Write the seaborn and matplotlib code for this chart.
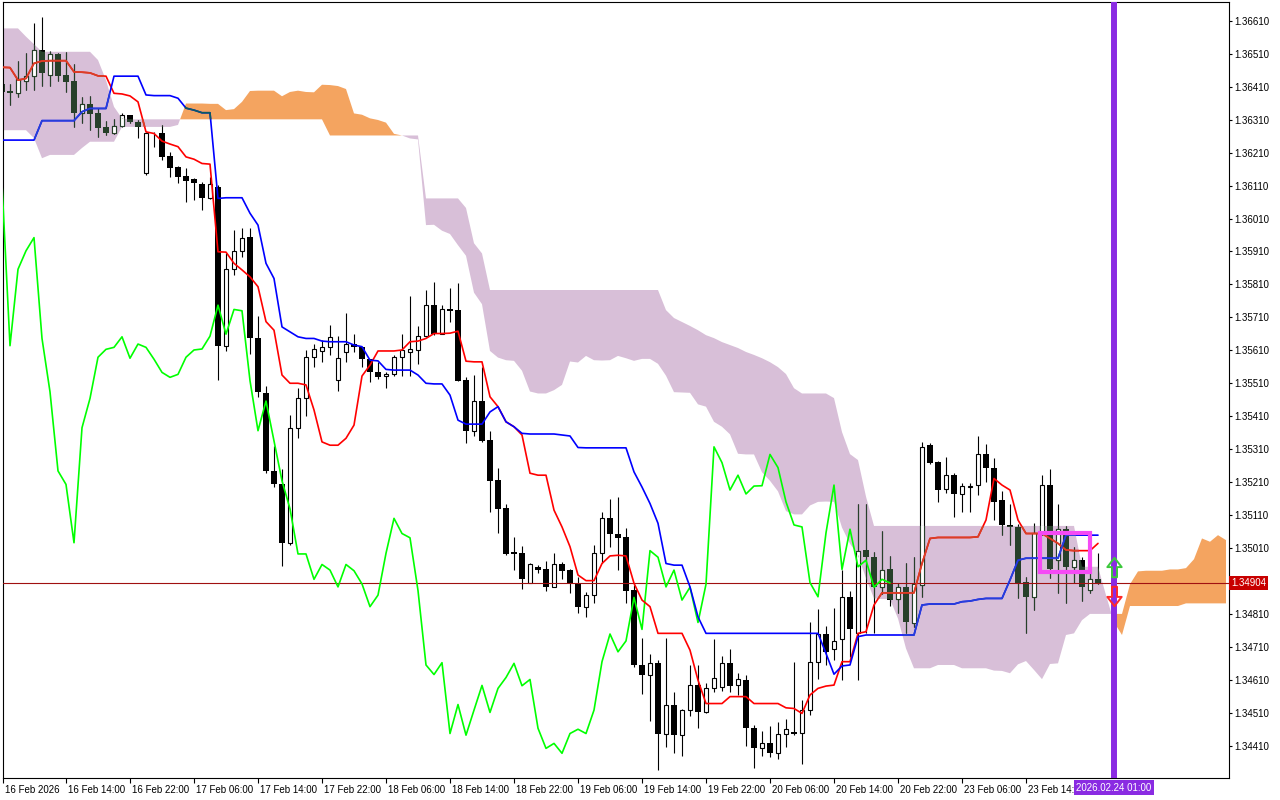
import numpy as np
import pandas as pd
import matplotlib
matplotlib.use("Agg")
import matplotlib.pyplot as plt
import matplotlib.transforms as mtrans
from matplotlib.patches import Rectangle, PathPatch
from matplotlib.path import Path
import seaborn as sns

# -------------------------------------------------------------
# H1 candles, 16 Feb 06:00 -> 23 Feb 23:00 (weekend skipped)
# -------------------------------------------------------------
opens = [1.36418, 1.36397, 1.36390, 1.36428, 1.36442, 1.36521, 1.36447, 1.36509, 1.36445, 1.36427,
         1.36331, 1.36359, 1.36329, 1.36288, 1.36271, 1.36290, 1.36323, 1.36304, 1.36147, 1.36268,
         1.36271, 1.36200, 1.36167, 1.36139, 1.36130, 1.36115, 1.36071, 1.36105, 1.35624, 1.35856,
         1.35911, 1.35955, 1.35647, 1.35481, 1.35244, 1.35204, 1.35024, 1.35375, 1.35464, 1.35589,
         1.35609, 1.35619, 1.35520, 1.35604, 1.35629, 1.35619, 1.35583, 1.35543, 1.35532, 1.35537,
         1.35589, 1.35604, 1.35611, 1.35653, 1.35747, 1.35661, 1.35734, 1.35732, 1.35520, 1.35366,
         1.35456, 1.35338, 1.35216, 1.35130, 1.34997, 1.34994, 1.34905, 1.34953, 1.34945, 1.34892,
         1.34961, 1.34943, 1.34903, 1.34832, 1.34867, 1.34994, 1.35100, 1.35054, 1.35042, 1.34882,
         1.34655, 1.34626, 1.34662, 1.34445, 1.34535, 1.34442, 1.34518, 1.34593, 1.34511, 1.34584,
         1.34589, 1.34660, 1.34593, 1.34609, 1.34463, 1.34402, 1.34417, 1.34387, 1.34447, 1.34452,
         1.34450, 1.34518, 1.34665, 1.34749, 1.34702, 1.34733, 1.34860, 1.34751, 1.35004, 1.34983,
         1.34892, 1.34945, 1.34854, 1.34891, 1.34783, 1.34898, 1.35322, 1.35272, 1.35188, 1.35231,
         1.35174, 1.35194, 1.35201, 1.35294, 1.35254, 1.35155, 1.35080, 1.35074, 1.34906, 1.34862,
         1.35056, 1.35201, 1.34973, 1.35067, 1.34953, 1.34973, 1.34884, 1.34915]

highs = [1.36424, 1.36418, 1.36488, 1.36511, 1.36602, 1.36622, 1.36519, 1.36512, 1.36514, 1.36479,
         1.36378, 1.36382, 1.36346, 1.36307, 1.36312, 1.36331, 1.36324, 1.36309, 1.36273, 1.36273,
         1.36294, 1.36213, 1.36169, 1.36162, 1.36132, 1.36122, 1.36136, 1.36112, 1.35906, 1.35975,
         1.35980, 1.35982, 1.35714, 1.35502, 1.35319, 1.35249, 1.35413, 1.35496, 1.35611, 1.35629,
         1.35641, 1.35687, 1.35653, 1.35722, 1.35661, 1.35620, 1.35583, 1.35575, 1.35545, 1.35596,
         1.35661, 1.35775, 1.35684, 1.35793, 1.35818, 1.35747, 1.35798, 1.35813, 1.35530, 1.35535,
         1.35559, 1.35365, 1.35254, 1.35145, 1.35044, 1.35016, 1.34965, 1.34958, 1.34970, 1.34996,
         1.34968, 1.34946, 1.34923, 1.34877, 1.35019, 1.35120, 1.35158, 1.35166, 1.35070, 1.34898,
         1.34736, 1.34688, 1.34670, 1.34736, 1.34573, 1.34521, 1.34655, 1.34655, 1.34599, 1.34733,
         1.34682, 1.34702, 1.34631, 1.34624, 1.34473, 1.34455, 1.34470, 1.34481, 1.34490, 1.34665,
         1.34548, 1.34786, 1.34824, 1.34773, 1.34827, 1.34943, 1.34880, 1.35145, 1.35143, 1.34999,
         1.35062, 1.34986, 1.34905, 1.34965, 1.34983, 1.35332, 1.35328, 1.35275, 1.35287, 1.35237,
         1.35206, 1.35206, 1.35350, 1.35325, 1.35282, 1.35183, 1.35145, 1.35083, 1.34923, 1.35085,
         1.35231, 1.35249, 1.35145, 1.35077, 1.35012, 1.34983, 1.34979, 1.34996]

lows = [1.36385, 1.36354, 1.36380, 1.36400, 1.36400, 1.36412, 1.36412, 1.36427, 1.36395, 1.36287,
        1.36299, 1.36278, 1.36258, 1.36262, 1.36266, 1.36288, 1.36300, 1.36253, 1.36141, 1.36228,
        1.36187, 1.36137, 1.36117, 1.36059, 1.36066, 1.36036, 1.36069, 1.35520, 1.35609, 1.35838,
        1.35894, 1.35599, 1.35469, 1.35238, 1.35196, 1.34955, 1.35019, 1.35343, 1.35410, 1.35558,
        1.35575, 1.35596, 1.35487, 1.35575, 1.35606, 1.35560, 1.35515, 1.35523, 1.35495, 1.35532,
        1.35532, 1.35532, 1.35568, 1.35651, 1.35656, 1.35661, 1.35697, 1.35517, 1.35328, 1.35351,
        1.35332, 1.35120, 1.35056, 1.34989, 1.34943, 1.34886, 1.34903, 1.34933, 1.34880, 1.34891,
        1.34915, 1.34872, 1.34813, 1.34801, 1.34844, 1.34963, 1.35014, 1.34943, 1.34844, 1.34650,
        1.34566, 1.34486, 1.34336, 1.34407, 1.34387, 1.34379, 1.34501, 1.34464, 1.34509, 1.34574,
        1.34577, 1.34574, 1.34564, 1.34410, 1.34341, 1.34379, 1.34376, 1.34369, 1.34407, 1.34442,
        1.34356, 1.34503, 1.34611, 1.34655, 1.34670, 1.34609, 1.34678, 1.34609, 1.34751, 1.34751,
        1.34870, 1.34834, 1.34812, 1.34751, 1.34769, 1.34862, 1.35266, 1.35150, 1.35176, 1.35103,
        1.35120, 1.35120, 1.35171, 1.35211, 1.35095, 1.35049, 1.35019, 1.34859, 1.34751, 1.34822,
        1.35049, 1.34918, 1.34872, 1.34842, 1.34903, 1.34850, 1.34872, 1.34901]

closes = [1.36395, 1.36390, 1.36432, 1.36442, 1.36521, 1.36451, 1.36509, 1.36443, 1.36425, 1.36331,
          1.36359, 1.36327, 1.36285, 1.36270, 1.36291, 1.36323, 1.36302, 1.36288, 1.36271, 1.36266,
          1.36197, 1.36164, 1.36137, 1.36125, 1.36117, 1.36071, 1.36115, 1.35624, 1.35856, 1.35912,
          1.35952, 1.35646, 1.35484, 1.35244, 1.35203, 1.35026, 1.35375, 1.35464, 1.35589, 1.35613,
          1.35619, 1.35651, 1.35586, 1.35629, 1.35619, 1.35583, 1.35543, 1.35528, 1.35537, 1.35589,
          1.35611, 1.35614, 1.35653, 1.35747, 1.35659, 1.35734, 1.35730, 1.35518, 1.35366, 1.35456,
          1.35335, 1.35214, 1.35129, 1.34992, 1.34992, 1.34915, 1.34960, 1.34943, 1.34892, 1.34960,
          1.34941, 1.34901, 1.34832, 1.34867, 1.34994, 1.35100, 1.35054, 1.35041, 1.34881, 1.34655,
          1.34626, 1.34662, 1.34447, 1.34535, 1.34442, 1.34518, 1.34593, 1.34511, 1.34584, 1.34617,
          1.34660, 1.34592, 1.34611, 1.34463, 1.34402, 1.34417, 1.34387, 1.34447, 1.34460, 1.34447,
          1.34518, 1.34665, 1.34749, 1.34695, 1.34728, 1.34860, 1.34763, 1.35002, 1.34982, 1.34892,
          1.34943, 1.34852, 1.34891, 1.34784, 1.34900, 1.35317, 1.35269, 1.35186, 1.35231, 1.35174,
          1.35198, 1.35199, 1.35294, 1.35254, 1.35150, 1.35080, 1.35074, 1.34905, 1.34862, 1.35056,
          1.35201, 1.34945, 1.35067, 1.34953, 1.34973, 1.34891, 1.34915, 1.34904]

# Ichimoku lines
tenkan = [1.36469, 1.36468, 1.36430, 1.36435, 1.36481, 1.36488, 1.36489, 1.36489, 1.36489, 1.36455,
          1.36454, 1.36452, 1.36443, 1.36442, 1.36390, 1.36388, 1.36382, 1.36364, 1.36273, 1.36268,
          1.36245, 1.36236, 1.36228, 1.36197, 1.36190, 1.36177, 1.36175, 1.35909, 1.35908, 1.35874,
          1.35854, 1.35833, 1.35803, 1.35697, 1.35671, 1.35535, 1.35510, 1.35510, 1.35505, 1.35429,
          1.35332, 1.35322, 1.35322, 1.35343, 1.35383, 1.35532, 1.35565, 1.35608, 1.35608, 1.35608,
          1.35611, 1.35636, 1.35638, 1.35646, 1.35661, 1.35661, 1.35662, 1.35668, 1.35577, 1.35575,
          1.35575, 1.35469, 1.35439, 1.35393, 1.35378, 1.35353, 1.35237, 1.35231, 1.35231, 1.35125,
          1.35074, 1.35014, 1.34928, 1.34911, 1.34911, 1.34963, 1.34986, 1.34988, 1.34986, 1.34903,
          1.34852, 1.34832, 1.34751, 1.34751, 1.34751, 1.34751, 1.34700, 1.34609, 1.34538, 1.34538,
          1.34538, 1.34559, 1.34559, 1.34559, 1.34538, 1.34538, 1.34538, 1.34538, 1.34525, 1.34523,
          1.34508, 1.34564, 1.34584, 1.34591, 1.34594, 1.34665, 1.34665, 1.34751, 1.34756, 1.34837,
          1.34874, 1.34874, 1.34874, 1.34874, 1.34874, 1.34963, 1.35039, 1.35042, 1.35042, 1.35042,
          1.35042, 1.35042, 1.35044, 1.35095, 1.35221, 1.35201, 1.35186, 1.35095, 1.35054, 1.35054,
          1.35054, 1.35039, 1.35024, 1.35004, 1.35002, 1.35002, 1.35002, 1.35024]

kijun = [1.36248, 1.36248, 1.36248, 1.36248, 1.36248, 1.36307, 1.36307, 1.36307, 1.36307, 1.36307,
         1.36334, 1.36344, 1.36344, 1.36344, 1.36442, 1.36442, 1.36442, 1.36442, 1.36385, 1.36383,
         1.36383, 1.36383, 1.36375, 1.36345, 1.36339, 1.36331, 1.36331, 1.36071, 1.36073, 1.36073,
         1.36073, 1.36026, 1.35990, 1.35874, 1.35828, 1.35681, 1.35666, 1.35651, 1.35646, 1.35646,
         1.35638, 1.35636, 1.35636, 1.35636, 1.35626, 1.35621, 1.35580, 1.35578, 1.35552, 1.35550,
         1.35550, 1.35550, 1.35535, 1.35510, 1.35508, 1.35508, 1.35474, 1.35398, 1.35386, 1.35386,
         1.35386, 1.35423, 1.35439, 1.35393, 1.35378, 1.35358, 1.35356, 1.35356, 1.35356, 1.35356,
         1.35353, 1.35350, 1.35315, 1.35314, 1.35314, 1.35314, 1.35314, 1.35314, 1.35314, 1.35241,
         1.35195, 1.35145, 1.35085, 1.34963, 1.34958, 1.34958, 1.34892, 1.34801, 1.34751, 1.34751,
         1.34751, 1.34751, 1.34751, 1.34751, 1.34751, 1.34751, 1.34751, 1.34751, 1.34751, 1.34751,
         1.34751, 1.34751, 1.34751, 1.34690, 1.34627, 1.34652, 1.34655, 1.34741, 1.34746, 1.34746,
         1.34746, 1.34746, 1.34746, 1.34746, 1.34746, 1.34837, 1.34840, 1.34840, 1.34840, 1.34840,
         1.34847, 1.34849, 1.34854, 1.34857, 1.34857, 1.34857, 1.34913, 1.34973, 1.34979, 1.34979,
         1.34979, 1.34979, 1.34979, 1.35049, 1.35049, 1.35049, 1.35049, 1.35049]

# cloud spans (already shifted 26 bars forward), bars 0..153
span_a = [1.36278, 1.36278, 1.36278, 1.36278, 1.36254, 1.36193, 1.36203, 1.36203, 1.36203, 1.36203,
          1.36224, 1.36243, 1.36243, 1.36243, 1.36243, 1.36288, 1.36288, 1.36288, 1.36288, 1.36288,
          1.36288, 1.36288, 1.36294, 1.36359, 1.36359, 1.36359, 1.36358, 1.36358, 1.36339, 1.36342,
          1.36364, 1.36397, 1.36398, 1.36398, 1.36398, 1.36381, 1.36394, 1.36398, 1.36394, 1.36393,
          1.36416, 1.36415, 1.36412, 1.36403, 1.36329, 1.36325, 1.36314, 1.36309, 1.36301, 1.36267,
          1.36262, 1.36253, 1.36250, 1.35990, 1.35991, 1.35973, 1.35963, 1.35929, 1.35897, 1.35785,
          1.35750, 1.35608, 1.35588, 1.35580, 1.35578, 1.35548, 1.35485, 1.35479, 1.35479, 1.35489,
          1.35505, 1.35576, 1.35573, 1.35593, 1.35580, 1.35579, 1.35580, 1.35593, 1.35586, 1.35578,
          1.35584, 1.35584, 1.35569, 1.35533, 1.35483, 1.35482, 1.35481, 1.35446, 1.35439, 1.35393,
          1.35378, 1.35355, 1.35296, 1.35294, 1.35294, 1.35240, 1.35214, 1.35182, 1.35122, 1.35112,
          1.35112, 1.35139, 1.35150, 1.35151, 1.35150, 1.35072, 1.35023, 1.34989, 1.34918, 1.34857,
          1.34855, 1.34855, 1.34796, 1.34705, 1.34645, 1.34645, 1.34645, 1.34655, 1.34655, 1.34655,
          1.34645, 1.34645, 1.34645, 1.34645, 1.34638, 1.34637, 1.34630, 1.34657, 1.34667, 1.34640,
          1.34612, 1.34658, 1.34660, 1.34746, 1.34751, 1.34791, 1.34810, 1.34810, 1.34810, 1.34810,
          1.34810, 1.34900, 1.34939, 1.34941, 1.34941, 1.34941, 1.34945, 1.34945, 1.34949, 1.34976,
          1.35039, 1.35029, 1.35049, 1.35034]

span_b = [1.36587, 1.36587, 1.36587, 1.36562, 1.36539, 1.36516, 1.36516, 1.36516, 1.36516, 1.36516,
          1.36516, 1.36516, 1.36491, 1.36430, 1.36349, 1.36314, 1.36311, 1.36311, 1.36311, 1.36311,
          1.36311, 1.36311, 1.36311, 1.36311, 1.36311, 1.36311, 1.36311, 1.36311, 1.36311, 1.36311,
          1.36311, 1.36311, 1.36311, 1.36311, 1.36311, 1.36311, 1.36311, 1.36311, 1.36311, 1.36311,
          1.36311, 1.36262, 1.36262, 1.36262, 1.36262, 1.36262, 1.36262, 1.36262, 1.36262, 1.36262,
          1.36262, 1.36262, 1.36262, 1.36071, 1.36071, 1.36071, 1.36071, 1.36071, 1.36042, 1.35935,
          1.35904, 1.35793, 1.35793, 1.35793, 1.35793, 1.35793, 1.35793, 1.35793, 1.35793, 1.35793,
          1.35793, 1.35793, 1.35793, 1.35793, 1.35793, 1.35793, 1.35793, 1.35793, 1.35793, 1.35793,
          1.35793, 1.35793, 1.35793, 1.35732, 1.35708, 1.35696, 1.35684, 1.35671, 1.35656, 1.35647,
          1.35635, 1.35626, 1.35617, 1.35605, 1.35596, 1.35586, 1.35574, 1.35559, 1.35538, 1.35495,
          1.35479, 1.35479, 1.35479, 1.35479, 1.35465, 1.35362, 1.35295, 1.35277, 1.35166, 1.35077,
          1.35077, 1.35077, 1.35077, 1.35077, 1.35077, 1.35077, 1.35077, 1.35077, 1.35077, 1.35077,
          1.35077, 1.35077, 1.35077, 1.35077, 1.35077, 1.35077, 1.35077, 1.35077, 1.35077, 1.35077,
          1.35077, 1.35077, 1.35077, 1.35077, 1.35077, 1.34953, 1.34953, 1.34953, 1.34867, 1.34785,
          1.34746, 1.34834, 1.34834, 1.34834, 1.34834, 1.34834, 1.34834, 1.34834, 1.34842, 1.34842,
          1.34842, 1.34842, 1.34842, 1.34842]

chikou_shift = 26

# axis labels
time_label_bars = [0.07, 8, 16, 24, 32, 40, 48, 56, 64, 72, 80, 88, 96, 104, 112, 120, 128]
time_labels = ["16 Feb 2026", "16 Feb 14:00", "16 Feb 22:00", "17 Feb 06:00", "17 Feb 14:00",
               "17 Feb 22:00", "18 Feb 06:00", "18 Feb 14:00", "18 Feb 22:00", "19 Feb 06:00",
               "19 Feb 14:00", "19 Feb 22:00", "20 Feb 06:00", "20 Feb 14:00", "20 Feb 22:00",
               "23 Feb 06:00", "23 Feb 14:00"]
price_ticks = [1.36610, 1.36510, 1.36410, 1.36310, 1.36210, 1.36110, 1.36010, 1.35910, 1.35810,
               1.35710, 1.35610, 1.35510, 1.35410, 1.35310, 1.35210, 1.35110, 1.35010,
               1.34810, 1.34710, 1.34610, 1.34510, 1.34410]

last_price = 1.34904
marker_bar = 139
marker_text = "2026.02.24 01:00"
box_bars = (129.75, 136.0)
box_prices = (1.34937, 1.35055)
buy_arrow_price = 1.34952
sell_arrow_price = 1.34864

# -------------------------------------------------------------
# figure
# -------------------------------------------------------------
sns.set_theme(style="white")
plt.rcParams["font.family"] = ["Liberation Sans", "DejaVu Sans"]

fig = plt.figure(figsize=(12.8, 8), dpi=100, facecolor="white")
ax = fig.add_axes([2.5 / 1280, 22 / 800, 1226.5 / 1280, 776 / 800])
ax.set_facecolor("white")

bars = np.arange(len(closes))
cloud_bars = np.arange(len(span_a))
o = np.array(opens)
h = np.array(highs)
l = np.array(lows)
c = np.array(closes)
sa = np.array(span_a)
sb = np.array(span_b)

# cloud
orange = ax.fill_between(cloud_bars, sa, sb, where=sa >= sb, interpolate=True,
                         facecolor="#f4a460", lw=0, zorder=1)
thistle = ax.fill_between(cloud_bars, sa, sb, where=sb > sa, interpolate=True,
                          facecolor="#d8bfd8", lw=0, zorder=1)

thistle_clip = PathPatch(Path.make_compound_path(*thistle.get_paths()),
                         transform=ax.transData, facecolor="none", edgecolor="none", lw=0)
orange_clip = PathPatch(Path.make_compound_path(*orange.get_paths()),
                        transform=ax.transData, facecolor="none", edgecolor="none", lw=0)
ax.add_patch(thistle_clip)
ax.add_patch(orange_clip)


def draw_candles(ink, z, clip=None):
    up = c >= o
    body_lo = np.minimum(o, c)
    body_h = np.maximum(np.abs(c - o), 0.00002)
    wicks = ax.vlines(bars, l, h, colors=ink, lw=0.8, zorder=z)
    bear = ax.bar(bars[~up], body_h[~up], bottom=body_lo[~up], width=0.64,
                  color=ink, lw=0, zorder=z + 0.1)
    bull = ax.bar(bars[up], body_h[up], bottom=body_lo[up], width=0.54,
                  facecolor="white", edgecolor=ink, lw=0.8, zorder=z + 0.1)
    if clip is not None:
        wicks.set_clip_path(clip)
        for p in list(bear) + list(bull):
            p.set_clip_path(clip)


draw_candles("black", 2)
draw_candles("#27402a", 2.3, thistle_clip)

# current price line
ax.axhline(last_price, color="#a01010", lw=0.8, zorder=2.6)

# Ichimoku lines
line_df = pd.DataFrame({"bar": bars, "tenkan": tenkan, "kijun": kijun})
chikou_df = pd.DataFrame({"bar": bars[chikou_shift - 1:] - chikou_shift,
                          "chikou": closes[chikou_shift - 1:]})

sns.lineplot(data=chikou_df, x="bar", y="chikou", color="#00ff00", linewidth=1.2, ax=ax, zorder=4)
sns.lineplot(data=line_df, x="bar", y="tenkan", color="#ff0000", linewidth=1.2, ax=ax, zorder=4)
sns.lineplot(data=line_df, x="bar", y="kijun", color="#0000ff", linewidth=1.2, ax=ax, zorder=4)

# tinted copies where the lines cross the cloud
t_over = ax.plot(bars, tenkan, color="#d84027", lw=1.2, zorder=4.1)[0]
t_over.set_clip_path(thistle_clip)
k_over = ax.plot(bars, kijun, color="#2740d8", lw=1.2, zorder=4.1)[0]
k_over.set_clip_path(thistle_clip)
k_over2 = ax.plot(bars, kijun, color="#0b5b60", lw=1.2, zorder=4.1)[0]
k_over2.set_clip_path(orange_clip)

# rectangle object
ax.add_patch(Rectangle((box_bars[0], box_prices[0]), box_bars[1] - box_bars[0],
                       box_prices[1] - box_prices[0], fill=False,
                       edgecolor="#f54af5", lw=3.0, zorder=6))

# vertical time marker
ax.axvline(marker_bar, color="#8a2be2", lw=4.3, zorder=5)

# buy / sell arrows (hollow arrow glyphs)
up_arrow = Path([(-0.13, -0.5), (0.13, -0.5), (0.13, 0.02), (0.37, 0.02), (0.0, 0.5),
                 (-0.37, 0.02), (-0.13, 0.02), (-0.13, -0.5)], closed=True)
down_arrow = Path([(-0.13, 0.5), (0.13, 0.5), (0.13, -0.02), (0.37, -0.02), (0.0, -0.5),
                   (-0.37, -0.02), (-0.13, -0.02), (-0.13, 0.5)], closed=True)
ax.plot([marker_bar], [buy_arrow_price], marker=up_arrow, markersize=14, mfc="none",
        mec="#3cc83c", mew=1.4, ls="none", zorder=7)
ax.plot([marker_bar], [sell_arrow_price], marker=down_arrow, markersize=14, mfc="none",
        mec="#ff2a2a", mew=1.4, ls="none", zorder=7)

# limits / axes
ax.set_xlim(0.0625, 153.375)
ax.set_ylim(1.343120, 1.366671)
ax.set_xlabel("")
ax.set_ylabel("")

ax.set_xticks(time_label_bars)
ax.set_xticklabels(time_labels)
ax.yaxis.tick_right()
ax.set_yticks(price_ticks)
ax.set_yticklabels([f"{p:.5f}" for p in price_ticks])
ax.tick_params(axis="x", direction="out", length=3.5, width=0.8, pad=1.5,
               labelsize=7, colors="black", bottom=True)
ax.tick_params(axis="y", direction="out", length=2.5, width=0.8, pad=1.5,
               labelsize=7, colors="black", right=True, left=False)

shift = mtrans.ScaledTranslation(1.5 / 72, 0, fig.dpi_scale_trans)
for lab in ax.get_xticklabels():
    lab.set_horizontalalignment("left")
    lab.set_transform(lab.get_transform() + shift)

for s in ax.spines.values():
    s.set_color("black")
    s.set_linewidth(0.8)
    s.set_visible(True)

# price tag and time tag
ax.annotate(f"{last_price:.5f}", xy=(1, last_price), xycoords=("axes fraction", "data"),
            xytext=(1.5, 0), textcoords="offset points", ha="left", va="center",
            color="white", fontsize=7,
            bbox=dict(boxstyle="square,pad=0.2", fc="#c80000", ec="none"),
            zorder=10, annotation_clip=False)
ax.annotate(marker_text, xy=(marker_bar, 0), xycoords=("data", "axes fraction"),
            xytext=(0, -3.3), textcoords="offset points", ha="center", va="top",
            color="white", fontsize=7,
            bbox=dict(boxstyle="square,pad=0.22", fc="#8a2be2", ec="none"),
            zorder=10, annotation_clip=False)

fig.savefig("out.png", dpi=100, facecolor="white")
